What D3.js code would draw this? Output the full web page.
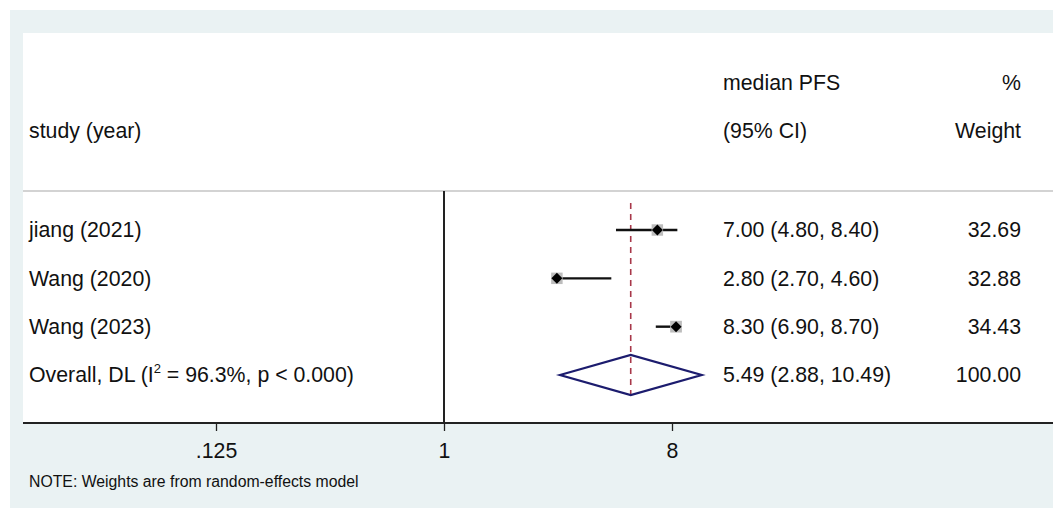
<!DOCTYPE html>
<html>
<head>
<meta charset="utf-8">
<script src="https://cdn.jsdelivr.net/npm/d3@7"></script>
<style>
  body { margin: 0; background: #fff; }
  text { font-family: "Liberation Sans", Arial, sans-serif; fill: #111; }
</style>
</head>
<body>
<svg id="chart" width="1053" height="508"></svg>
<script>
// data
var studies = ["jiang (2021)", "Wang (2020)", "Wang (2023)"];
var est = [7.00, 2.80, 8.30];
var lower = [4.80, 2.70, 6.90];
var upper = [8.40, 4.60, 8.70];
var weights = [32.69, 32.88, 34.43];
var overallLabel = ["Overall, DL (I", "2", " = 96.3%, p < 0.000)"];
var overall = [5.49, 2.88, 10.49]; // est, lower, upper
var overallWeight = 100.00;
var xTicks = [0.125, 1, 8];
var xTickLabels = [".125", "1", "8"];

var svg = d3.select("#chart");
var W = 1053, H = 508;
var fs = 21.3;

// backgrounds (stata-ish)
svg.append("rect").attr("width", W).attr("height", H).attr("fill", "#fff");
svg.append("rect").attr("x", 10).attr("y", 10).attr("width", W - 10).attr("height", H - 10).attr("fill", "#eaf2f3");
svg.append("rect").attr("x", 23).attr("y", 33).attr("width", W - 23).attr("height", 423 - 33).attr("fill", "#fff");

var x = d3.scaleLog().base(2).domain([0.125, 8]).range([216, 672]);
var y = d3.scaleLinear().domain([0, 3]).range([230, 375]);

var fmt = d3.format(".2f");
var leftX = 29, ciX = 723, wX = 1021;

// headers
svg.append("text").attr("x", ciX).attr("y", 83).attr("dy", "0.35em").attr("font-size", fs).text("median PFS");
svg.append("text").attr("x", wX).attr("y", 83).attr("dy", "0.35em").attr("font-size", fs).attr("text-anchor", "end").text("%");
svg.append("text").attr("x", leftX).attr("y", 131).attr("dy", "0.35em").attr("font-size", fs).text("study (year)");
svg.append("text").attr("x", ciX).attr("y", 131).attr("dy", "0.35em").attr("font-size", fs).text("(95% CI)");
svg.append("text").attr("x", wX).attr("y", 131).attr("dy", "0.35em").attr("font-size", fs).attr("text-anchor", "end").text("Weight");

// separator under header
svg.append("line").attr("x1", 23).attr("x2", W).attr("y1", 191).attr("y2", 191)
  .attr("stroke", "#c4c4c4").attr("stroke-width", 1.5);

// null line at 1
svg.append("line").attr("x1", x(1)).attr("x2", x(1)).attr("y1", 191).attr("y2", 423)
  .attr("stroke", "#222").attr("stroke-width", 2);

// overall dashed line
svg.append("line").attr("x1", x(overall[0])).attr("x2", x(overall[0])).attr("y1", 203).attr("y2", 398)
  .attr("stroke", "#a8384a").attr("stroke-width", 1.6).attr("stroke-dasharray", "6,5");

// study rows
var rows = svg.selectAll("g.study").data(studies).enter().append("g").attr("class", "study");

rows.append("line")
  .attr("x1", function(d, i) { return x(lower[i]); })
  .attr("x2", function(d, i) { return x(upper[i]); })
  .attr("y1", function(d, i) { return y(i); })
  .attr("y2", function(d, i) { return y(i); })
  .attr("stroke", "#111").attr("stroke-width", 2.4);

rows.append("rect")
  .attr("x", function(d, i) { return x(est[i]) - 2 * Math.sqrt(weights[i]) / 2; })
  .attr("y", function(d, i) { return y(i) - 2 * Math.sqrt(weights[i]) / 2; })
  .attr("width", function(d, i) { return 2 * Math.sqrt(weights[i]); })
  .attr("height", function(d, i) { return 2 * Math.sqrt(weights[i]); })
  .attr("fill", "#bdbdbd");

rows.append("path")
  .attr("d", function(d, i) {
    var cx = x(est[i]), cy = y(i), r = 5.5;
    return "M" + (cx - r) + "," + cy + "L" + cx + "," + (cy - r) + "L" + (cx + r) + "," + cy + "L" + cx + "," + (cy + r) + "Z";
  })
  .attr("fill", "#000");

rows.append("text").attr("x", leftX).attr("y", function(d, i) { return y(i); }).attr("dy", "0.35em")
  .attr("font-size", fs).text(function(d) { return d; });

rows.append("text").attr("x", ciX).attr("y", function(d, i) { return y(i); }).attr("dy", "0.35em")
  .attr("font-size", fs)
  .text(function(d, i) { return fmt(est[i]) + " (" + fmt(lower[i]) + ", " + fmt(upper[i]) + ")"; });

rows.append("text").attr("x", wX).attr("y", function(d, i) { return y(i); }).attr("dy", "0.35em")
  .attr("font-size", fs).attr("text-anchor", "end")
  .text(function(d, i) { return fmt(weights[i]); });

// overall row
var oy = y(3);
svg.append("path")
  .attr("d", "M" + x(overall[1]) + "," + oy + "L" + x(overall[0]) + "," + (oy - 20) +
             "L" + x(overall[2]) + "," + oy + "L" + x(overall[0]) + "," + (oy + 20) + "Z")
  .attr("fill", "none").attr("stroke", "#1c1c6e").attr("stroke-width", 2.2);

var ot = svg.append("text").attr("x", leftX).attr("y", oy).attr("dy", "0.35em").attr("font-size", fs);
ot.append("tspan").text(overallLabel[0]);
ot.append("tspan").attr("font-size", 13).attr("dy", "-0.75em").text(overallLabel[1]);
ot.append("tspan").attr("dy", "0.45em").text(overallLabel[2]);

svg.append("text").attr("x", ciX).attr("y", oy).attr("dy", "0.35em").attr("font-size", fs)
  .text(fmt(overall[0]) + " (" + fmt(overall[1]) + ", " + fmt(overall[2]) + ")");
svg.append("text").attr("x", wX).attr("y", oy).attr("dy", "0.35em").attr("font-size", fs)
  .attr("text-anchor", "end").text(fmt(overallWeight));

// x axis
var axis = d3.axisBottom(x).tickValues(xTicks)
  .tickFormat(function(d, i) { return xTickLabels[i]; })
  .tickSize(8).tickPadding(12);
var ax = svg.append("g").attr("transform", "translate(0,423)").call(axis);
ax.select(".domain").remove();
ax.selectAll(".tick line").attr("stroke", "#222").attr("stroke-width", 1.3);
ax.selectAll(".tick text").attr("font-size", fs).attr("font-family", "Liberation Sans, Arial, sans-serif").attr("fill", "#111");
svg.append("line").attr("x1", 23).attr("x2", W).attr("y1", 423).attr("y2", 423)
  .attr("stroke", "#222").attr("stroke-width", 2);

// note
svg.append("text").attr("x", leftX).attr("y", 481).attr("dy", "0.35em").attr("font-size", 15.8)
  .text("NOTE: Weights are from random-effects model");
</script>
</body>
</html>
